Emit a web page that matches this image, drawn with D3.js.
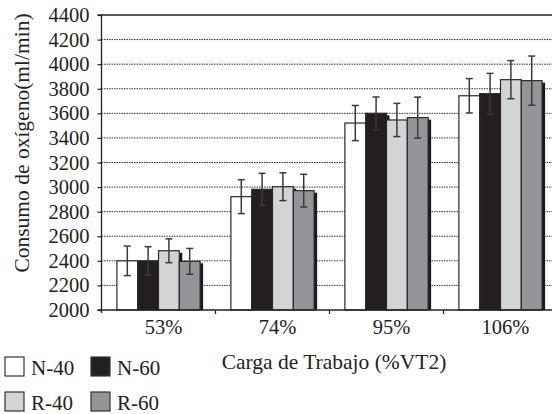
<!DOCTYPE html>
<html><head><meta charset="utf-8">
<script src="https://cdn.jsdelivr.net/npm/d3@7"></script>
<style>
html,body{margin:0;padding:0;background:#fff;}
svg{display:block;}
svg text{font-family:"Liberation Serif","Times New Roman",Times,Tinos,"DejaVu Serif",serif;}
</style></head>
<body><svg id="c" width="552" height="414"></svg>
<script>
const categories = ["53%", "74%", "95%", "106%"];
const seriesNames = ["N-40", "N-60", "R-40", "R-60"];
const n40 = [2400, 2922, 3521, 3743];
const n60 = [2400, 2982, 3600, 3760];
const r40 = [2482, 3003, 3546, 3874];
const r60 = [2396, 2971, 3565, 3866];
const n40Err = [120, 138, 143, 140];
const n60Err = [115, 130, 133, 165];
const r40Err = [97, 113, 135, 155];
const r60Err = [105, 133, 167, 200];
const yTicks = [2000, 2200, 2400, 2600, 2800, 3000, 3200, 3400, 3600, 3800, 4000, 4200, 4400];
const colors = ["#ffffff", "#231f20", "#d3d4d6", "#939598"];

const values = [n40, n60, r40, r60];
const errs = [n40Err, n60Err, r40Err, r60Err];

const svg = d3.select("#c");
const pLeft = 101.5, pRight = 557.5, pTop = 15, pBottom = 310;

const y = d3.scaleLinear().domain([2000, 4400]).range([pBottom, pTop]);
const x0 = d3.scaleBand().domain(categories).range([pLeft, pRight]).paddingInner(0.27).paddingOuter(0.135);
const x1 = d3.scaleBand().domain(seriesNames).range([0, x0.bandwidth()]);

// gridlines
svg.append("g").selectAll("line").data(yTicks.filter(t => t > 2000 && t < 4400)).join("line")
  .attr("x1", pLeft).attr("x2", 552).attr("y1", d => y(d)).attr("y2", d => y(d))
  .attr("stroke", "#333").attr("stroke-width", 1).attr("stroke-dasharray", "1.5,1");
// top border
svg.append("line").attr("x1", pLeft).attr("x2", 552).attr("y1", y(4400)).attr("y2", y(4400))
  .attr("stroke", "#222").attr("stroke-width", 1.3);

// bars
const g = svg.append("g");
categories.forEach((c, ci) => {
  seriesNames.forEach((s, si) => {
    const bx = x0(c) + x1(s), bw = x1.bandwidth(), v = values[si][ci];
    g.append("rect").attr("x", bx + 3).attr("y", y(v) + 2).attr("width", bw).attr("height", pBottom - y(v) - 2)
      .attr("fill", "#1a1a1a");
    g.append("rect").attr("x", bx).attr("y", y(v)).attr("width", bw).attr("height", pBottom - y(v))
      .attr("fill", colors[si]).attr("stroke", "#2a2a2a").attr("stroke-width", 1.2);
  });
});
// error bars
categories.forEach((c, ci) => {
  seriesNames.forEach((s, si) => {
    const cx = x0(c) + x1(s) + x1.bandwidth() / 2, v = values[si][ci], e = errs[si][ci];
    const eg = g.append("g").attr("stroke", "#3a3a3a").attr("stroke-width", 1.5);
    eg.append("line").attr("x1", cx).attr("x2", cx).attr("y1", y(v + e)).attr("y2", y(v - e));
    eg.append("line").attr("x1", cx - 3.5).attr("x2", cx + 3.5).attr("y1", y(v + e)).attr("y2", y(v + e));
    eg.append("line").attr("x1", cx - 3.5).attr("x2", cx + 3.5).attr("y1", y(v - e)).attr("y2", y(v - e));
  });
});

// y axis
const yAxis = d3.axisLeft(y).tickValues(yTicks).tickSize(4).tickPadding(8).tickFormat(d3.format("d"));
const ya = svg.append("g").attr("transform", `translate(${pLeft},0)`).call(yAxis);
ya.attr("font-family", null).attr("font-size", null);
ya.select(".domain").attr("stroke", "#222").attr("stroke-width", 1.3).attr("d", `M-4,${pTop}H0V${pBottom + 3}`);
ya.selectAll(".tick line").attr("stroke", "#222").attr("stroke-width", 1.2);
ya.selectAll("text").attr("font-size", 20.5).attr("fill", "#222");

// x axis
svg.append("line").attr("x1", pLeft - 4).attr("x2", 552).attr("y1", pBottom).attr("y2", pBottom)
  .attr("stroke", "#222").attr("stroke-width", 1.3);
const bounds = d3.range(1, categories.length).map(i => x0.range()[0] + i * x0.step());
svg.append("g").selectAll("line").data(bounds).join("line")
  .attr("x1", d => d).attr("x2", d => d).attr("y1", pBottom).attr("y2", pBottom + 4)
  .attr("stroke", "#222").attr("stroke-width", 1.2);
svg.append("g").selectAll("text").data(categories).join("text")
  .attr("x", d => x0(d) + x0.bandwidth() / 2 + 5).attr("y", 334)
  .attr("text-anchor", "middle").attr("font-size", 20.5).attr("fill", "#222").text(d => d);

// axis titles
svg.append("text").attr("x", 334).attr("y", 369).attr("text-anchor", "middle")
  .attr("font-size", 21.5).attr("fill", "#222").text("Carga de Trabajo (%VT2)");
svg.append("text").attr("transform", "translate(29,143) rotate(-90)").attr("text-anchor", "middle")
  .attr("font-size", 21.5).attr("fill", "#222").text("Consumo de oxígeno(ml/min)");

// legend
const lg = svg.append("g");
seriesNames.forEach((s, i) => {
  const col = i % 2, row = Math.floor(i / 2);
  const lx = 5 + col * 86, ly = 357 + row * 35;
  lg.append("rect").attr("x", lx).attr("y", ly).attr("width", 19).attr("height", 19)
    .attr("fill", colors[i]).attr("stroke", "#333").attr("stroke-width", 1.2);
  lg.append("text").attr("x", lx + 26).attr("y", ly + 18).attr("font-size", 21).attr("fill", "#222").text(s);
});
</script></body></html>
